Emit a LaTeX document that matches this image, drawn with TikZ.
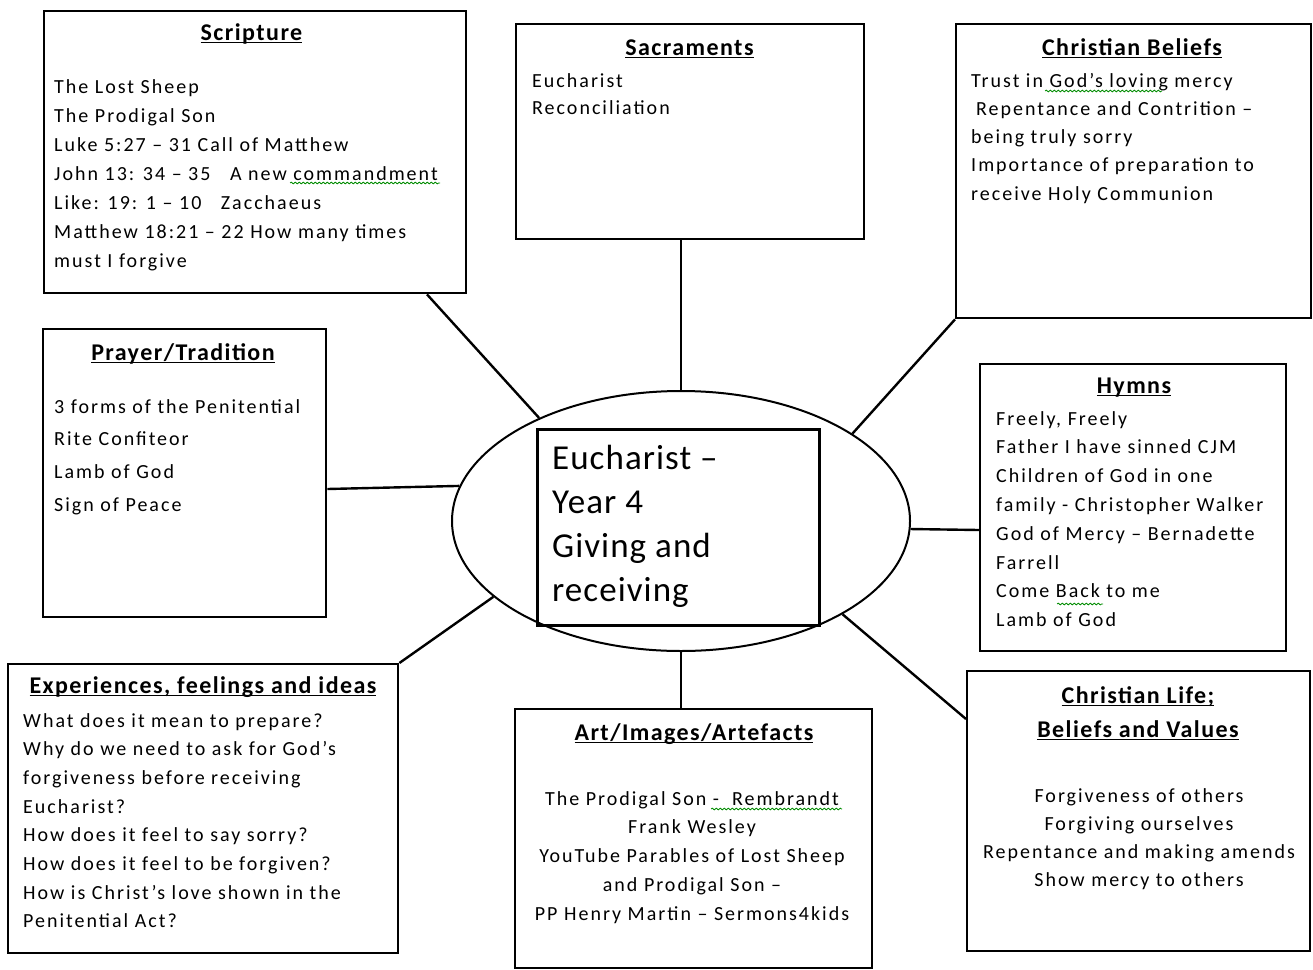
\documentclass[tikz,border=0pt]{standalone}
\usepackage{fontspec}
\setmainfont{Carlito}
\newfontfamily\bodyf[LetterSpace=10]{Carlito}
\newfontfamily\ttlf[LetterSpace=6]{Carlito}
\newfontfamily\coref[LetterSpace=3]{Carlito}
\usetikzlibrary{shapes.geometric,decorations.pathmorphing}
\newcommand{\ulx}[1]{\setbox0\hbox{#1}\rlap{\rule[-3.2pt]{\wd0}{1.6pt}}\box0}
\tikzset{
  box/.style={draw, line width=2.4pt, rectangle, anchor=north west, inner sep=0pt},
  ttl/.style={anchor=base, inner sep=0pt, font=\ttlf\bfseries\fontsize{24}{34}\selectfont},
  bodyl/.style={anchor=base west, inner sep=0pt, align=left},
  bodyc/.style={anchor=base, inner sep=0pt, align=center},
  link/.style={line width=2.4pt},
  wavy/.style={draw=green!55!black, line width=0.8pt, decorate, decoration={snake, amplitude=0.9pt, segment length=4pt}}
}
\begin{document}
\begin{tikzpicture}[x=1pt,y=-1pt]
\useasboundingbox[fill=white] (0,0) rectangle (1313,969);

% central
\node[draw, ellipse, line width=2pt, minimum width=458pt, minimum height=260pt, inner sep=0pt] (ell) at (681,521) {};
\node[box, line width=3pt, minimum width=282pt, minimum height=196pt] (core) at (536,428) {};
\node[bodyl, font=\coref\fontsize{35}{44.3}\selectfont] (coretext) at (552,601.9) {Eucharist –\\Year 4\\Giving and\\receiving};

% boxes
\node[box, minimum width=422pt, minimum height=282pt] (scr) at (43,10) {};
\node[box, minimum width=348pt, minimum height=215pt] (sac) at (515,23) {};
\node[box, minimum width=355pt, minimum height=294pt] (cb) at (955,23) {};
\node[box, minimum width=283pt, minimum height=288pt] (pr) at (42,328) {};
\node[box, minimum width=306pt, minimum height=287pt] (hy) at (979,363) {};
\node[box, minimum width=390pt, minimum height=289pt] (exp) at (7,663) {};
\node[box, minimum width=357pt, minimum height=259pt] (art) at (514,708) {};
\node[box, minimum width=343pt, minimum height=280pt] (cl) at (966,670) {};

% connectors
\draw[link] ([xshift=384pt]scr.south west) -- (ell.144.4);
\draw[link] (ell.north) -- (ell.north |- sac.south);
\draw[link] (cb.south west) -- (ell.27.9);
\draw[link] ([yshift=-161pt]pr.north east) -- (ell.171.6);
\draw[link] ([yshift=-167pt]hy.north west) -- (ell.-2.3);
\draw[link] (exp.north east) -- (ell.202.5);
\draw[link] (ell.south) -- (ell.south |- art.north);
\draw[link] ([yshift=-49pt]cl.north west) -- (ell.-30.7);

% titles
\node[ttl] (scrT) at (251.5,40) {\ulx{Scripture}};
\node[ttl] (sacT) at (689.5,55) {\ulx{Sacraments}};
\node[ttl] (cbT) at (1132,55) {\ulx{Christian Beliefs}};
\node[ttl] (prT) at (183,360) {\ulx{Prayer/Tradition}};
\node[ttl] (hyT) at (1134,393) {\ulx{Hymns}};
\node[ttl] (expT) at (203,693) {\ulx{Experiences, feelings and ideas}};
\node[ttl] (artT) at (694,740) {\ulx{Art/Images/Artefacts}};
\node[ttl] (clT) at (1138,703) {\ulx{Christian Life;}};
\node[ttl] (clT2) at (1138,737) {\ulx{Beliefs and Values}};

% bodies (anchored at the baseline of the last line)
\node[bodyl, font=\bodyf\fontsize{20}{29}\selectfont] (scrB) at (54,267) {The Lost Sheep\\The Prodigal Son\\Luke 5:27 – 31 Call of Matthew\\John 13: 34 – 35 \ \ A new commandment\\Like: 19: 1 – 10 \ \ Zacchaeus\\Matthew 18:21 – 22 How many times\\must I forgive};
\node[bodyl, font=\bodyf\fontsize{20}{27.5}\selectfont] (sacB) at (532,114.5) {Eucharist\\Reconciliation};
\node[bodyl, font=\bodyf\fontsize{20}{28.3}\selectfont] (cbB) at (971,200.2) {Trust in God’s loving mercy\\\hspace*{5pt}Repentance and Contrition –\\being truly sorry\\Importance of preparation to\\receive Holy Communion};
\node[bodyl, font=\bodyf\fontsize{20}{32.7}\selectfont] (prB) at (54,511.1) {3 forms of the Penitential\\Rite Confiteor\\Lamb of God\\Sign of Peace};
\node[bodyl, font=\bodyf\fontsize{20}{28.8}\selectfont] (hyB) at (996,626.6) {Freely, Freely\\Father I have sinned CJM\\Children of God in one\\family - Christopher Walker\\God of Mercy – Bernadette\\Farrell\\Come Back to me\\Lamb of God};
\node[bodyl, font=\bodyf\fontsize{20}{28.7}\selectfont] (expB) at (23,927.9) {What does it mean to prepare?\\Why do we need to ask for God’s\\forgiveness before receiving\\Eucharist?\\How does it feel to say sorry?\\How does it feel to be forgiven?\\How is Christ’s love shown in the\\Penitential Act?};
\node[bodyc, font=\bodyf\fontsize{20}{28.8}\selectfont] (artB) at (692,920.2) {The Prodigal Son - \ Rembrandt\\Frank Wesley\\YouTube Parables of Lost Sheep\\and Prodigal Son –\\PP Henry Martin – Sermons4kids};
\node[bodyc, font=\bodyf\fontsize{20}{28.3}\selectfont] (clB) at (1139,886.9) {Forgiveness of others\\Forgiving ourselves\\Repentance and making amends\\Show mercy to others};

% spell-check squiggles
\draw[wavy] (290,183) -- (440,183);
\draw[wavy] (1045,91) -- (1162,91);
\draw[wavy] (1057,604) -- (1103,604);
\draw[wavy] (711,809) -- (842,809);
\end{tikzpicture}
\end{document}
